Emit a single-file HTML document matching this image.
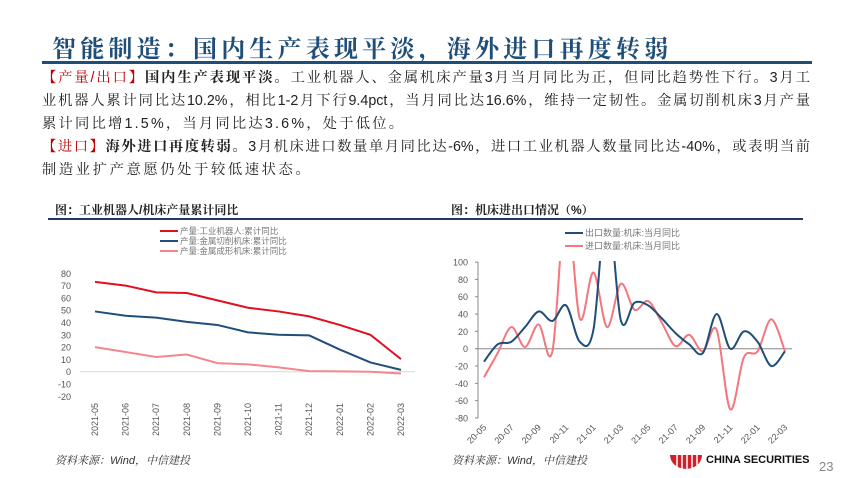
<!DOCTYPE html>
<html><head><meta charset="utf-8">
<style>
body{margin:0;width:850px;height:478px;background:#fff;position:relative;overflow:hidden;font-family:"Liberation Sans","Noto Serif CJK SC","Noto Sans CJK SC",serif;}
.t{position:absolute;white-space:nowrap;}
#title{left:52px;top:29px;font-size:24px;font-weight:bold;color:#1f4e79;font-family:"Liberation Serif","Noto Serif CJK SC",serif;letter-spacing:4.2px;}
.p{left:42px;font-size:14.3px;color:#222;font-family:"Liberation Sans","Noto Serif CJK SC",serif;}
.j{width:768px;text-align:justify;text-align-last:justify;}
.r{color:#c00000;}
</style></head><body>
<div class="t" id="title">智能制造：国内生产表现平淡，海外进口再度转弱</div>
<div style="position:absolute;left:42px;top:61px;width:770px;height:3px;background:#1f4e79"></div>
<div class="t p j" style="top:67px"><span class="r">【产量/出口】</span><b>国内生产表现平淡。</b>工业机器人、金属机床产量3月当月同比为正，但同比趋势性下行。3月工</div>
<div class="t p j" style="top:90px">业机器人累计同比达10.2%，相比1-2月下行9.4pct，当月同比达16.6%，维持一定韧性。金属切削机床3月产量</div>
<div class="t p" style="top:113px;letter-spacing:2.2px">累计同比增1.5%，当月同比达3.6%，处于低位。</div>
<div class="t p j" style="top:136px"><span class="r">【进口】</span><b>海外进口再度转弱。</b>3月机床进口数量单月同比达-6%，进口工业机器人数量同比达-40%，或表明当前</div>
<div class="t p" style="top:159px;letter-spacing:2.6px">制造业扩产意愿仍处于较低速状态。</div>

<div class="t" style="left:55px;top:201px;font-size:12px;font-weight:bold;color:#222">图：工业机器人/机床产量累计同比</div>
<div class="t" style="left:451px;top:201px;font-size:12px;font-weight:bold;color:#222">图：机床进出口情况（%）</div>
<div style="position:absolute;left:48px;top:218px;width:755px;height:2px;background:#1f3a5f"></div>

<svg id="s" width="850" height="478" style="position:absolute;left:0;top:0" font-family="Liberation Sans, Noto Sans CJK SC, sans-serif">
<defs><clipPath id="c"><rect x="470" y="261" width="330" height="170"/></clipPath></defs>
<g id="L"></g><g id="R"></g>
</svg>

<div class="t" style="left:55px;top:452px;font-size:11px;font-style:italic;color:#333">资料来源：Wind，中信建投</div>
<div class="t" style="left:452px;top:452px;font-size:11px;font-style:italic;color:#333">资料来源：Wind，中信建投</div>
<svg width="36" height="16" style="position:absolute;left:668px;top:453px"><path d="M2 2 L34 2 A16 14 0 0 1 2 2Z" fill="#d0202a"/><g stroke="#fff" stroke-width="1.5"><line x1="9" y1="2" x2="9" y2="14"/><line x1="14" y1="2" x2="14" y2="16"/><line x1="19" y1="2" x2="19" y2="16"/><line x1="24" y1="2" x2="24" y2="16"/><line x1="29" y1="2" x2="29" y2="12"/></g></svg>
<div class="t" style="left:706px;top:454px;font-size:11px;font-weight:bold;color:#111">CHINA SECURITIES</div>
<div class="t" style="left:819px;top:459px;font-size:13px;color:#888">23</div>

<script>
const NS="http://www.w3.org/2000/svg";
function el(p,t,a,txt){const e=document.createElementNS(NS,t);for(const k in a)e.setAttribute(k,a[k]);if(txt!=null)e.textContent=txt;p.appendChild(e);return e;}
function smooth(pts){let d="M"+pts[0][0]+" "+pts[0][1];for(let i=0;i<pts.length-1;i++){const p0=pts[i-1]||pts[i],p1=pts[i],p2=pts[i+1],p3=pts[i+2]||p2;const c1=[p1[0]+(p2[0]-p0[0])/6,p1[1]+(p2[1]-p0[1])/6],c2=[p2[0]-(p3[0]-p1[0])/6,p2[1]-(p3[1]-p1[1])/6];d+=` C${c1} ${c2} ${p2}`;}return d;}
const L=document.getElementById("L");
const ly=v=>371.7-v*1.23, lx=i=>95+i*30.6;
el(L,"line",{x1:80,x2:415,y1:371.7,y2:371.7,stroke:"#d9d9d9","stroke-width":1});
for(let v=80;v>=-20;v-=10)el(L,"text",{x:71,y:ly(v)+3.5,"font-size":9,fill:"#555","text-anchor":"end"},v);
const mon=["2021-05","2021-06","2021-07","2021-08","2021-09","2021-10","2021-11","2021-12","2022-01","2022-02","2022-03"];
mon.forEach((m,i)=>el(L,"text",{transform:`translate(${lx(i)+3},403) rotate(-90)`,"font-size":9,fill:"#555","text-anchor":"end"},m));
const ls=[[[73,70,64.5,64,58,52,49,45,38,30,10.2],"#e0101f"],[[49,45.5,44,40.5,38,32,30,29.5,18,7.5,1.5],"#1f4e79"],[[20,16,12,14,7,6,3.5,0.5,0.3,0,-1.5],"#f4868f"]];
ls.forEach(([d,c])=>el(L,"polyline",{points:d.map((v,i)=>lx(i)+","+ly(v)).join(" "),fill:"none",stroke:c,"stroke-width":2}));
const ln=["产量:工业机器人:累计同比","产量:金属切削机床:累计同比","产量:金属成形机床:累计同比"];
ln.forEach((t,i)=>{el(L,"line",{x1:160,x2:178,y1:231+i*10,y2:231+i*10,stroke:ls[i][1],"stroke-width":2});el(L,"text",{x:180,y:234+i*10,"font-size":8.5,fill:"#777"},t);});
const R=document.getElementById("R");
const ry=v=>348.7-v*0.866, rx=i=>484+i*13.68;
el(R,"line",{x1:478,x2:478,y1:262,y2:418,stroke:"#888"});
el(R,"line",{x1:478,x2:792,y1:348.7,y2:348.7,stroke:"#888"});
for(let v=100;v>=-80;v-=20){el(R,"text",{x:468,y:ry(v)+3.5,"font-size":9,fill:"#555","text-anchor":"end"},v);el(R,"line",{x1:475,x2:478,y1:ry(v),y2:ry(v),stroke:"#888"});}
const xl=["20-05","20-07","20-09","20-11","21-01","21-03","21-05","21-07","21-09","21-11","22-01","22-03"];
xl.forEach((m,i)=>el(R,"text",{transform:`translate(${rx(i*2)+3},428) rotate(-45)`,"font-size":9,fill:"#555","text-anchor":"end"},m));
const ex=[-15,5,8,25,43,32,50,8,22,170,33,53,50,35,18,5,-5,40,0,20,8,-20,-3];
const im=[-33,-5,25,2,28,-3,170,35,88,25,75,45,55,30,3,16,-3,22,-70,-10,-3,34,-3];
const g=el(R,"g",{"clip-path":"url(#c)"});
el(g,"path",{d:smooth(im.map((v,i)=>[rx(i),ry(v)])),fill:"none",stroke:"#f4767f","stroke-width":2});
el(g,"path",{d:smooth(ex.map((v,i)=>[rx(i),ry(v)])),fill:"none",stroke:"#1f4e79","stroke-width":2});
[["出口数量:机床:当月同比","#1f4e79"],["进口数量:机床:当月同比","#f4767f"]].forEach(([t,c],i)=>{el(R,"line",{x1:565,x2:583,y1:233+i*13,y2:233+i*13,stroke:c,"stroke-width":2});el(R,"text",{x:585,y:236+i*13,"font-size":9,fill:"#777"},t);});
</script>
</body></html>
